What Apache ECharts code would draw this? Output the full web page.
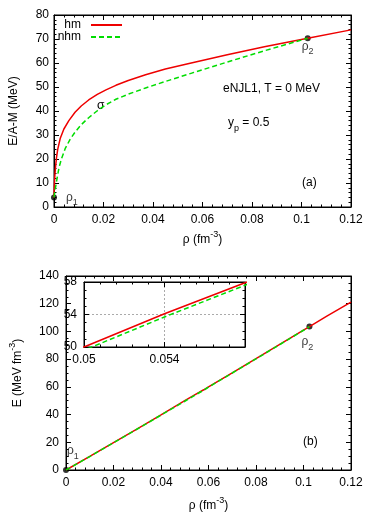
<!DOCTYPE html>
<html>
<head>
<meta charset="utf-8">
<script src="https://cdn.jsdelivr.net/npm/echarts@6/dist/echarts.min.js"></script>
<style>
  html, body { margin: 0; padding: 0; background: #fff; }
  #chart { width: 374px; height: 523px; }
</style>
</head>
<body>
<div id="chart"></div>
<script>
// (a) E/A - M vs rho
var rhoHmA = [0, 0.0001, 0.0003, 0.0006, 0.001, 0.0015, 0.0025, 0.004, 0.006, 0.0085, 0.011, 0.014, 0.0175,
  0.021, 0.025, 0.03, 0.037, 0.045, 0.055, 0.07, 0.085, 0.1025, 0.12];
var eaHm = [4, 8, 12.5, 16.5, 20.5, 24, 28.5, 32.5, 36, 39.5, 42.1, 44.6, 46.9,
  48.8, 50.7, 52.7, 55.1, 57.5, 59.9, 63.4, 66.8, 70.3, 73.8];
var rhoNhmA = [0, 0.0005, 0.001, 0.002, 0.003, 0.0045, 0.0065, 0.0085, 0.011, 0.014, 0.0175,
  0.021, 0.025, 0.03, 0.037, 0.045, 0.056, 0.07, 0.085, 0.1025];
var eaNhm = [4, 7.5, 10.5, 16.3, 20, 24.3, 28.2, 31.2, 34.3, 37.2, 40.1,
  42.6, 44.9, 47, 49.6, 52.3, 55.9, 60.4, 65.1, 70.3];
var pointsA = [[0, 4, '1'], [0.1025, 70.3, '2']];

// (b) E vs rho
var rhoHmB = [0, 0.01, 0.02, 0.03, 0.04, 0.05, 0.054, 0.058, 0.06, 0.07, 0.08, 0.09, 0.1, 0.1025, 0.11, 0.12];
var eHm    = [0, 9.8, 19.75, 29.7, 39.8, 50.0, 54.1, 57.9, 60.06, 70.1, 80.3, 90.6, 100.9, 103.4, 111.2, 121.2];
var rhoNhmB = [0, 0.01, 0.02, 0.03, 0.04, 0.05, 0.054, 0.058, 0.06, 0.07, 0.08, 0.09, 0.1, 0.1025];
var eNhm    = [0, 9.72, 19.6, 29.6, 39.6, 49.6, 53.7, 57.6, 59.8, 70.0, 80.2, 90.5, 100.85, 103.4];
var pointsB = [[0, 0, '1'], [0.1025, 103.5, '2']];

var RED = '#ee0000', GREEN = '#00dd00';
var FONT = 'Liberation Sans';

function zip(xs, ys) {
  return xs.map(function (x, i) { return [x, ys[i]]; });
}

var subRich = {
  a: { fontSize: 12, fontFamily: FONT, color: '#000', lineHeight: 20, verticalAlign: 'middle' },
  s: { fontSize: 9, fontFamily: FONT, color: '#000', verticalAlign: 'bottom' },
  p: { fontSize: 9, fontFamily: FONT, color: '#000', verticalAlign: 'top' }
};

function xAx(grid, min, max, interval, pos, show, minor, name, gap) {
  return {
    gridIndex: grid, type: 'value', min: min, max: max, interval: interval, position: pos,
    name: name || '', nameLocation: 'middle', nameGap: gap || 22,
    nameTextStyle: { rich: subRich },
    axisLine: { show: true, onZero: false, lineStyle: { color: '#000', width: 1 } },
    axisTick: { show: true, inside: true, length: 5, lineStyle: { color: '#000' } },
    minorTick: { show: true, splitNumber: minor, length: 2.5, lineStyle: { color: '#000' } },
    axisLabel: { show: show, color: '#000', fontSize: 12, fontFamily: FONT, margin: 7,
      formatter: function (v) { return (grid === 2 && v > 0.0565) ? '' : String(+v.toFixed(4)); } },
    splitLine: { show: grid === 2 && pos === 'bottom', lineStyle: { color: '#aaa', type: [2, 2] } }
  };
}

function yAx(grid, min, max, interval, pos, show, minor, name, gap) {
  return {
    gridIndex: grid, type: 'value', min: min, max: max, interval: interval, position: pos,
    name: name || '', nameLocation: 'middle', nameGap: gap || 30,
    nameTextStyle: { rich: subRich, fontSize: 12, fontFamily: FONT, color: '#000' },
    axisLine: { show: true, onZero: false, lineStyle: { color: '#000', width: 1 } },
    axisTick: { show: true, inside: true, length: 5, lineStyle: { color: '#000' } },
    minorTick: { show: true, splitNumber: minor, length: 2.5, lineStyle: { color: '#000' } },
    axisLabel: { show: show, color: '#000', fontSize: 12, fontFamily: FONT, margin: grid === 0 ? 5 : 7 },
    splitLine: { show: grid === 2 && pos === 'left', lineStyle: { color: '#aaa', type: [2, 2] } }
  };
}

function pointData(pts, offsets, positions) {
  return pts.map(function (p, i) {
    return { value: p, label: { position: positions[i], offset: offsets[i] } };
  });
}

var legendText = { fontSize: 12, fontFamily: FONT, color: '#000', padding: [0, 5, 0, 0] };

var chart = echarts.init(document.getElementById('chart'));
var option = {
  animation: false,
  backgroundColor: '#fff',
  textStyle: { fontFamily: FONT },
  grid: [
    { left: 53.5, top: 15, width: 297.5, height: 192, show: true, borderColor: '#000', borderWidth: 1 },
    { left: 61, top: 276, width: 290, height: 194, show: true, borderColor: '#000', borderWidth: 1 },
    { left: 84, top: 282, width: 161, height: 65, show: true, borderColor: '#000', borderWidth: 1, backgroundColor: '#fff' }
  ],
  xAxis: [
    xAx(0, 0, 0.12, 0.02, 'bottom', true, 5, '{a|ρ (fm}{p|-3}{a|)}', 23),
    xAx(0, 0, 0.12, 0.02, 'top', false, 5),
    xAx(1, 0, 0.12, 0.02, 'bottom', true, 5, '{a|ρ (fm}{p|-3}{a|)}', 26),
    xAx(1, 0, 0.12, 0.02, 'top', false, 5),
    xAx(2, 0.05, 0.058, 0.004, 'bottom', true, 5),
    xAx(2, 0.05, 0.058, 0.004, 'top', false, 5)
  ],
  yAxis: [
    yAx(0, 0, 80, 10, 'left', true, 5, 'E/A-M (MeV)', 34),
    yAx(0, 0, 80, 10, 'right', false, 5),
    yAx(1, 0, 140, 20, 'left', true, 4, '{a|E (MeV fm}{p|-3}{a|)}', 38),
    yAx(1, 0, 140, 20, 'right', false, 4),
    yAx(2, 50, 58, 4, 'left', true, 4),
    yAx(2, 50, 58, 4, 'right', false, 4)
  ],
  legend: [
    { data: ['hm'], right: 251, top: 19, padding: 0, align: 'right', itemWidth: 31, itemHeight: 10,
      itemStyle: { opacity: 0 }, textStyle: legendText },
    { data: ['nhm'], right: 251, top: 31, padding: 0, align: 'right', itemWidth: 31, itemHeight: 10,
      itemStyle: { opacity: 0 }, textStyle: legendText }
  ],
  series: [
    { name: 'hm', type: 'line', xAxisIndex: 0, yAxisIndex: 0, data: zip(rhoHmA, eaHm),
      symbol: 'none', lineStyle: { color: RED, width: 1.5 }, itemStyle: { color: RED } },
    { name: 'nhm', type: 'line', xAxisIndex: 0, yAxisIndex: 0, data: zip(rhoNhmA, eaNhm),
      symbol: 'none', lineStyle: { color: GREEN, width: 1.5, type: [5, 3] }, itemStyle: { color: GREEN } },
    { type: 'scatter', xAxisIndex: 0, yAxisIndex: 0, symbolSize: 6, itemStyle: { color: '#000' },
      data: pointData(pointsA, [[4, 0], [0, -10]], ['right', 'bottom']),
      label: { show: true, rich: subRich, formatter: function (p) { return '{a|ρ}{s|' + p.value[2] + '}'; } } },
    { type: 'line', xAxisIndex: 2, yAxisIndex: 2, data: zip(rhoHmB, eHm),
      symbol: 'none', lineStyle: { color: RED, width: 1.5 } },
    { type: 'line', xAxisIndex: 2, yAxisIndex: 2, data: zip(rhoNhmB, eNhm),
      symbol: 'none', lineStyle: { color: GREEN, width: 1.5, type: [5, 3] } },
    { type: 'scatter', xAxisIndex: 2, yAxisIndex: 2, symbolSize: 6, itemStyle: { color: '#000' },
      data: pointData(pointsB, [[-7, -19], [-2, -3]], ['right', 'bottom']),
      label: { show: true, rich: subRich, formatter: function (p) { return '{a|ρ}{s|' + p.value[2] + '}'; } } },
    { type: 'line', xAxisIndex: 4, yAxisIndex: 4, data: zip(rhoHmB, eHm),
      symbol: 'none', lineStyle: { color: RED, width: 1.5 }, z: 5 },
    { type: 'line', xAxisIndex: 4, yAxisIndex: 4, data: zip(rhoNhmB, eNhm),
      symbol: 'none', lineStyle: { color: GREEN, width: 1.5, type: [5, 3] }, z: 5 }
  ],
  graphic: [
    { type: 'text', left: 223, top: 83, style: { text: 'eNJL1, T = 0 MeV', font: '12px "Liberation Sans"', fill: '#000' } },
    { type: 'text', left: 228, top: 117, style: { text: '{a|y}{s|p}{a| = 0.5}', rich: subRich } },
    { type: 'text', left: 302, top: 177, style: { text: '(a)', font: '12px "Liberation Sans"', fill: '#000' } },
    { type: 'text', left: 97, top: 100, style: { text: 'σ', font: '12px "Liberation Sans"', fill: '#000' } },
    { type: 'text', left: 303, top: 436, style: { text: '(b)', font: '12px "Liberation Sans"', fill: '#000' } }
  ]
};
chart.setOption(option);
</script>
</body>
</html>
